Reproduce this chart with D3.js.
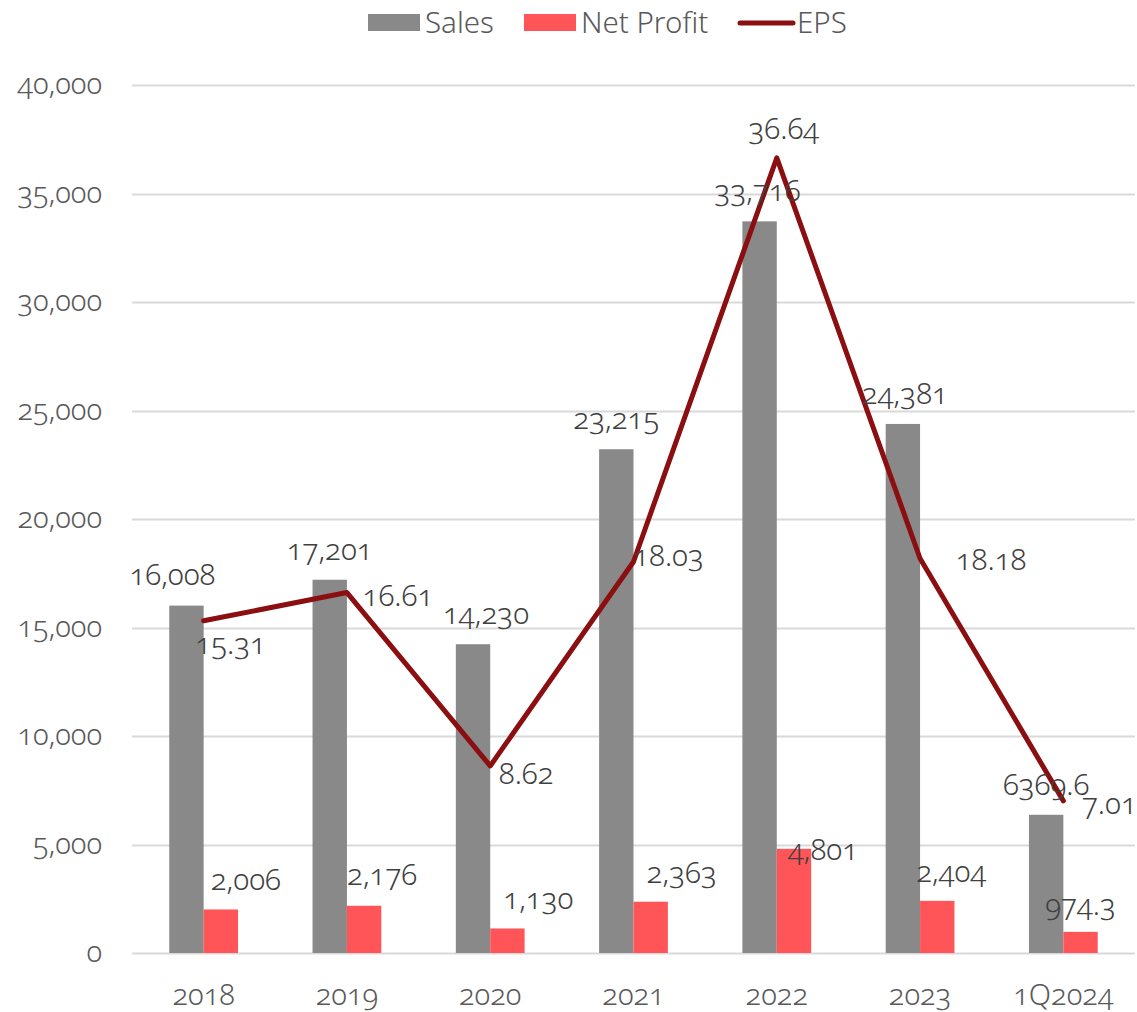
<!DOCTYPE html>
<html>
<head>
<meta charset="utf-8">
<script src="https://cdn.jsdelivr.net/npm/d3@7"></script>
<style>
  body { margin: 0; background: #fff; }
  svg text { font-family: "Noto Sans", Lato, sans-serif; font-weight: 300; font-variant-numeric: oldstyle-nums; font-feature-settings: "onum"; }
</style>
</head>
<body>
<div id="chart"></div>
<script>
// data
var years = ['2018', '2019', '2020', '2021', '2022', '2023', '1Q2024'];
var sales = [16008, 17201, 14230, 23215, 33716, 24381, 6369.6];
var netProfit = [2006, 2176, 1130, 2363, 4801, 2404, 974.3];
var eps = [15.31, 16.61, 8.62, 18.03, 36.64, 18.18, 7.01];
var salesText = ['16,008', '17,201', '14,230', '23,215', '33,716', '24,381', '6369.6'];
var profitText = ['2,006', '2,176', '1,130', '2,363', '4,801', '2,404', '974.3'];
var epsText = ['15.31', '16.61', '8.62', '18.03', '36.64', '18.18', '7.01'];
var yTicks = [0, 5000, 10000, 15000, 20000, 25000, 30000, 35000, 40000];

// label nudges (px) - the source had hand-moved labels
var salesNudge = [[-14, 0], [0, 0], [13, 0], [0, 0], [-2, 0], [2, 0], [0, 0]];
var profitNudge = [[25, 0], [18, -2], [31, 0], [31, 0], [29, 30], [14, 0], [0, 2]];
var epsNudge = [[27, 24], [51, 5], [36, 9], [35, -5], [7, -28], [71, 3], [46, 4]];

//colors
var salesColor = '#898989';
var profitColor = '#ff5558';
var epsColor = '#8b0e10';
var gridColor = '#d9d9d9';
var tickColor = '#595959';
var labelColor = '#404040';

var width = 1137, height = 1012;
var plotLeft = 132, plotRight = 1135, plotTop = 85, plotBottom = 953;

var svg = d3.select('#chart').append('svg')
  .attr('width', width)
  .attr('height', height);

var x = d3.scaleBand().domain(years).range([plotLeft, plotRight]).paddingInner(0.52).paddingOuter(0.26);
var xSub = d3.scaleBand().domain(['s', 'p']).range([0, x.bandwidth()]);
var y = d3.scaleLinear().domain([0, 40000]).range([plotBottom, plotTop]);
var y2 = d3.scaleLinear().domain([0, 40]).range([plotBottom, plotTop]);

// gridlines
svg.append('g').selectAll('line')
  .data(yTicks)
  .enter().append('line')
  .attr('x1', plotLeft)
  .attr('x2', plotRight)
  .attr('y1', function(d) { return Math.round(y(d)) + 0.5; })
  .attr('y2', function(d) { return Math.round(y(d)) + 0.5; })
  .style('stroke', gridColor)
  .style('stroke-width', 2);

// y axis
var yAxis = svg.append('g')
  .attr('transform', 'translate(' + (plotLeft - 30) + ',0)')
  .call(d3.axisLeft(y).tickValues(yTicks).tickSize(0).tickPadding(0).tickFormat(d3.format(',')));
yAxis.select('.domain').remove();
yAxis.selectAll('text')
  .attr('dy', '0.3em')
  .style('font-size', '29px')
  .style('fill', tickColor);

// x axis
var xAxis = svg.append('g')
  .attr('transform', 'translate(0,' + plotBottom + ')')
  .call(d3.axisBottom(x).tickSize(0).tickPadding(43));
xAxis.select('.domain').remove();
xAxis.selectAll('text')
  .attr('dy', '0.3em')
  .style('font-size', '29px')
  .style('fill', tickColor);

// bars
var groups = svg.append('g').selectAll('.grp')
  .data(years)
  .enter().append('g')
  .attr('class', 'grp')
  .attr('transform', function(d) { return 'translate(' + x(d) + ',0)'; });

groups.append('rect')
  .attr('x', xSub('s'))
  .attr('width', xSub.bandwidth())
  .attr('y', function(d, i) { return y(sales[i]); })
  .attr('height', function(d, i) { return plotBottom - y(sales[i]); })
  .style('fill', salesColor);

groups.append('rect')
  .attr('x', xSub('p'))
  .attr('width', xSub.bandwidth())
  .attr('y', function(d, i) { return y(netProfit[i]); })
  .attr('height', function(d, i) { return plotBottom - y(netProfit[i]); })
  .style('fill', profitColor);

// EPS line
var line = d3.line()
  .x(function(d, i) { return x(years[i]) + x.bandwidth() / 2; })
  .y(function(d) { return y2(d); });

svg.append('path')
  .attr('d', line(eps))
  .style('fill', 'none')
  .style('stroke', epsColor)
  .style('stroke-width', 5)
  .style('stroke-linejoin', 'round')
  .style('stroke-linecap', 'round');

// data labels
var labels = svg.append('g').style('font-size', '29.5px').style('fill', labelColor).attr('text-anchor', 'middle');

labels.selectAll('.sl')
  .data(years)
  .enter().append('text')
  .attr('x', function(d, i) { return x(d) + xSub('s') + xSub.bandwidth() / 2 + salesNudge[i][0]; })
  .attr('y', function(d, i) { return y(sales[i]) - 29 + salesNudge[i][1]; })
  .attr('dy', '0.3em')
  .text(function(d, i) { return salesText[i]; });

labels.selectAll('.pl')
  .data(years)
  .enter().append('text')
  .attr('x', function(d, i) { return x(d) + xSub('p') + xSub.bandwidth() / 2 + profitNudge[i][0]; })
  .attr('y', function(d, i) { return y(netProfit[i]) - 28 + profitNudge[i][1]; })
  .attr('dy', '0.3em')
  .text(function(d, i) { return profitText[i]; });

labels.selectAll('.el')
  .data(years)
  .enter().append('text')
  .attr('x', function(d, i) { return x(d) + x.bandwidth() / 2 + epsNudge[i][0]; })
  .attr('y', function(d, i) { return y2(eps[i]) + epsNudge[i][1]; })
  .attr('dy', '0.3em')
  .text(function(d, i) { return epsText[i]; });

// legend
var legend = svg.append('g').style('font-size', '29.5px').style('fill', tickColor);
legend.append('rect').attr('x', 368).attr('y', 14).attr('width', 52).attr('height', 17).style('fill', salesColor);
legend.append('text').attr('x', 425).attr('y', 23).attr('dy', '0.35em').text('Sales');
legend.append('rect').attr('x', 524).attr('y', 14).attr('width', 52).attr('height', 17).style('fill', profitColor);
legend.append('text').attr('x', 581).attr('y', 23).attr('dy', '0.35em').text('Net Profit');
legend.append('line').attr('x1', 740).attr('x2', 793).attr('y1', 23).attr('y2', 23)
  .style('stroke', epsColor).style('stroke-width', 5).style('stroke-linecap', 'round');
legend.append('text').attr('x', 797).attr('y', 23).attr('dy', '0.35em').text('EPS');
</script>
</body>
</html>
